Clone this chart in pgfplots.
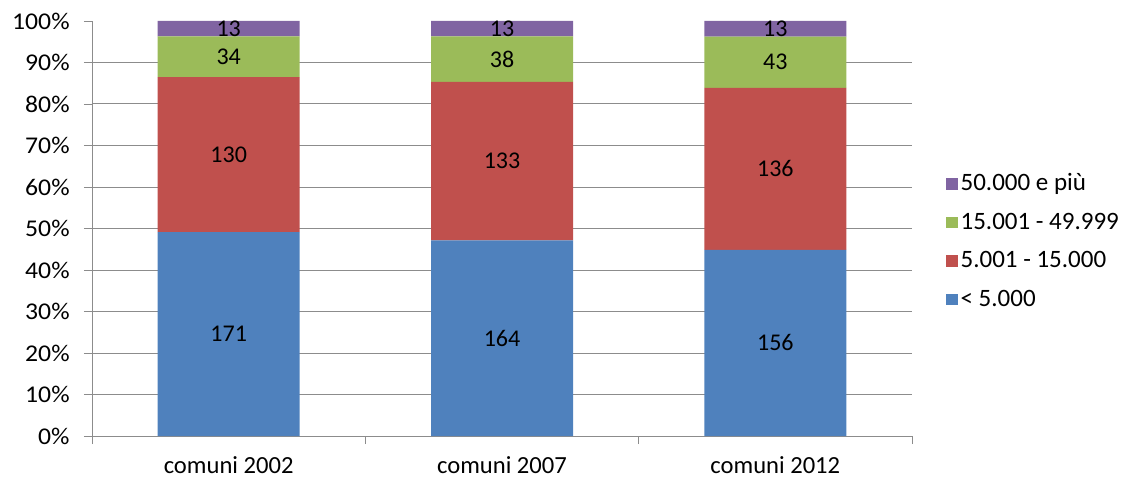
\documentclass[border=0pt]{standalone}
\usepackage{pgfplots}
\pgfplotsset{compat=1.18}
\usepackage{pgfplotstable}
\usepackage{fontspec}
\setmainfont{Carlito}
\newfontfamily\widefont{Carlito}[FakeStretch=1.07]
\definecolor{cblue}{HTML}{4F81BD}
\definecolor{cred}{HTML}{C0504D}
\definecolor{cgreen}{HTML}{9BBB59}
\definecolor{cpurple}{HTML}{8064A2}
\definecolor{gridgray}{HTML}{8C8C8C}
\pgfplotstableread{
x a b c d t
0 171 130 34 13 348
1 164 133 38 13 348
2 156 136 43 13 348
}\data
\begin{document}
\fontsize{12}{14}\selectfont
\begin{tikzpicture}
\pgfplotsset{
  common/.style={
    scale only axis, width=410pt, height=207.5pt,
    xmin=-0.5, xmax=2.5, ymin=0, ymax=100,
  },
  sq/.style={legend image code/.code={\path[##1] (0pt,-2.8pt) rectangle (5.8pt,2.8pt);}},
}
\begin{axis}[
  common,
  ybar stacked, bar width=71pt,
  axis x line*=bottom, axis y line*=left,
  axis line style={gridgray},
  tick align=outside, major tick length=4pt,
  tick style={gridgray},
  xtick={-0.5,0.5,1.5,2.5}, xticklabels={},
  extra x ticks={0,1,2},
  extra x tick labels={comuni 2002, comuni 2007, comuni 2012},
  extra x tick style={major tick length=0pt, xticklabel style={yshift=-6pt, font=\fontsize{12.3}{14}\selectfont}},
  ytick={0,10,...,90},
  extra y ticks={100},
  extra y tick style={grid=none},
  ymajorgrids, grid style={gridgray, line width=0.5pt},
  yticklabel={\pgfmathprintnumber{\tick}\%},
  yticklabel style={xshift=-3pt, font=\widefont\fontsize{12}{14}\selectfont},
  /pgf/number format/assume math mode=true,
  reverse legend,
  legend style={draw=none, at={(1.041,0.468)}, anchor=west, inner sep=0pt,
    font=\fontsize{12.5}{14}\selectfont,
    nodes={inner sep=1.5pt, text height=9.5pt, text depth=3pt, anchor=west}, row sep=3.75pt,
    legend cell align=left},
]
\addplot[fill=cblue, draw=none, sq] table[x=x, y expr=\thisrow{a}/\thisrow{t}*100] {\data};
\addlegendentry{< 5.000}
\addplot[fill=cred, draw=none, sq] table[x=x, y expr=\thisrow{b}/\thisrow{t}*100] {\data};
\addlegendentry{5.001 - 15.000}
\addplot[fill=cgreen, draw=none, sq] table[x=x, y expr=\thisrow{c}/\thisrow{t}*100] {\data};
\addlegendentry{15.001 - 49.999}
\addplot[fill=cpurple, draw=none, sq] table[x=x, y expr=\thisrow{d}/\thisrow{t}*100] {\data};
\addlegendentry{50.000 e più}
\end{axis}
\begin{axis}[common, hide axis,
  every node near coord/.append style={anchor=center, font=\fontsize{12}{14}\selectfont, text=black}]
\addplot[draw=none, mark=none, nodes near coords, point meta=explicit symbolic]
  table[x=x, y expr=(\thisrow{a}/2)/\thisrow{t}*100, meta=a] {\data};
\addplot[draw=none, mark=none, nodes near coords, point meta=explicit symbolic]
  table[x=x, y expr=(\thisrow{a}+\thisrow{b}/2)/\thisrow{t}*100, meta=b] {\data};
\addplot[draw=none, mark=none, nodes near coords, point meta=explicit symbolic]
  table[x=x, y expr=(\thisrow{a}+\thisrow{b}+\thisrow{c}/2)/\thisrow{t}*100, meta=c] {\data};
\addplot[draw=none, mark=none, nodes near coords, point meta=explicit symbolic]
  table[x=x, y expr=(\thisrow{a}+\thisrow{b}+\thisrow{c}+\thisrow{d}/2)/\thisrow{t}*100, meta=d] {\data};
\end{axis}
\pgfresetboundingbox
\path (-46pt,-20.5pt) rectangle (516pt,218pt);
\end{tikzpicture}
\end{document}
